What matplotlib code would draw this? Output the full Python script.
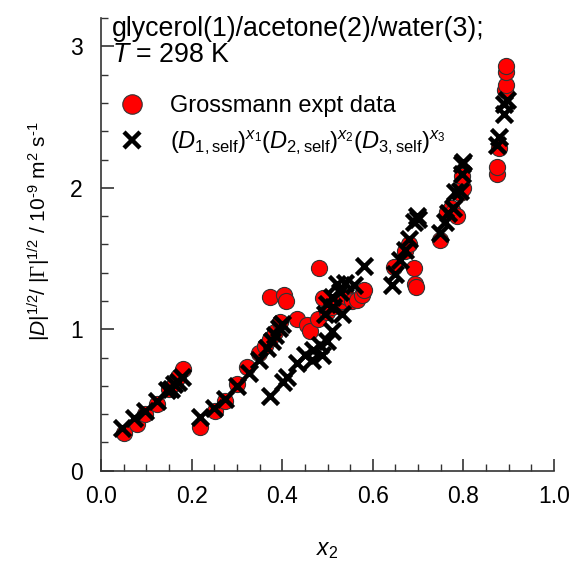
import matplotlib
matplotlib.use("Agg")
import matplotlib.pyplot as plt
from matplotlib.ticker import MultipleLocator
from matplotlib.lines import Line2D

plt.rcParams['font.family'] = ['Liberation Sans', 'DejaVu Sans']
plt.rcParams['mathtext.fontset'] = 'custom'
plt.rcParams['mathtext.rm'] = 'Liberation Sans'
plt.rcParams['mathtext.it'] = 'Liberation Sans:italic'
plt.rcParams['mathtext.bf'] = 'Liberation Sans:bold'
plt.rcParams['mathtext.sf'] = 'Liberation Serif'

# Grossmann experimental data
exp_x = [0.050, 0.079, 0.098, 0.124, 0.149, 0.164, 0.171, 0.182,
         0.219, 0.252, 0.274, 0.300, 0.322, 0.348, 0.362, 0.374, 0.385, 0.396,
         0.372, 0.403, 0.409, 0.433, 0.455, 0.462, 0.482, 0.480, 0.491, 0.499,
         0.510, 0.520, 0.532, 0.543, 0.554, 0.565, 0.576, 0.580,
         0.646, 0.672, 0.679, 0.690, 0.694, 0.696, 0.749, 0.764, 0.772, 0.778,
         0.786, 0.793, 0.800, 0.797,
         0.874, 0.874, 0.878, 0.892, 0.895, 0.895, 0.895]
exp_y = [0.27, 0.33, 0.40, 0.47, 0.58, 0.62, 0.66, 0.72,
         0.31, 0.42, 0.49, 0.61, 0.73, 0.83, 0.88, 0.93, 0.98, 1.05,
         1.23, 1.24, 1.20, 1.07, 1.03, 0.99, 1.43, 1.07, 1.22, 1.12,
         1.16, 1.18, 1.20, 1.23, 1.20, 1.21, 1.24, 1.28,
         1.44, 1.55, 1.60, 1.43, 1.32, 1.30, 1.63, 1.83, 1.86, 1.83,
         1.80, 1.96, 2.00, 2.08,
         2.10, 2.15, 2.28, 2.69, 2.73, 2.82, 2.86]

# Model: (D1,self)^x1 (D2,self)^x2 (D3,self)^x3
mod_x = [0.046, 0.072, 0.098, 0.124, 0.145, 0.155, 0.162, 0.170, 0.178,
         0.219, 0.249, 0.274, 0.300, 0.326, 0.348, 0.366, 0.377, 0.385, 0.392, 0.400,
         0.374, 0.402, 0.410, 0.433, 0.451, 0.466, 0.469, 0.484, 0.488, 0.499,
         0.510, 0.495, 0.499, 0.513, 0.510, 0.521, 0.528, 0.532, 0.539, 0.558, 0.580,
         0.642, 0.650, 0.661, 0.672, 0.679, 0.690, 0.698, 0.700,
         0.749, 0.760, 0.767, 0.778, 0.782, 0.793, 0.797, 0.797, 0.800,
         0.874, 0.878, 0.889, 0.889, 0.896]
mod_y = [0.30, 0.37, 0.42, 0.49, 0.57, 0.58, 0.61, 0.63, 0.66,
         0.38, 0.44, 0.51, 0.60, 0.69, 0.78, 0.87, 0.92, 0.96, 1.01, 1.04,
         0.53, 0.63, 0.66, 0.76, 0.82, 0.78, 0.85, 0.89, 0.82, 0.92,
         0.99, 1.11, 1.18, 1.16, 1.23, 1.32, 1.26, 1.11, 1.33, 1.31, 1.45,
         1.31, 1.39, 1.49, 1.56, 1.64, 1.76, 1.80, 1.78,
         1.68, 1.76, 1.82, 1.86, 1.97, 1.98, 2.10, 2.17, 2.18,
         2.30, 2.36, 2.52, 2.59, 2.62]

x_ticks = [0.0, 0.2, 0.4, 0.6, 0.8, 1.0]
y_ticks = [0, 1, 2, 3]

fig = plt.figure(figsize=(5.75, 5.65), dpi=100)
ax = fig.add_axes([0.1757, 0.1669, 0.7878, 0.8011])

ax.scatter(exp_x, exp_y, s=135, c='#ff0000', edgecolors='#333333', linewidths=0.8, zorder=3)
ax.scatter(mod_x, mod_y, s=135, marker='x', c='black', linewidths=3.2, zorder=4)

ax.set_xlim(0, 1.0)
ax.set_ylim(0, 3.2)
ax.set_xticks(x_ticks)
ax.set_yticks(y_ticks)
ax.set_xticklabels([f'{v:.1f}' for v in x_ticks])
ax.set_yticklabels([str(v) for v in y_ticks])
ax.xaxis.set_minor_locator(MultipleLocator(0.05))
ax.yaxis.set_minor_locator(MultipleLocator(0.2))
ax.tick_params(which='both', direction='in', labelsize=16.5, color='#333333')
ax.tick_params(which='major', length=9, width=1.2, pad=10)
ax.tick_params(which='minor', length=5, width=1.0)
ax.tick_params(axis='y', which='major', pad=13)
for s in ['top', 'right']:
    ax.spines[s].set_visible(False)
for s in ['left', 'bottom']:
    ax.spines[s].set_linewidth(1.2)
    ax.spines[s].set_color('#333333')

ax.set_xlabel(r'$x_2$', fontsize=16.5, labelpad=22)
ax.set_ylabel(r'$|D|^{1/2}$/ $|\mathsf{\Gamma}|^{1/2}$ / 10$^{\mathrm{‐}9}$ m$^{2}$ s$^{\mathrm{‐}1}$',
              fontsize=15)
ax.yaxis.set_label_coords(-0.105, 0.53)

ax.text(0.025, 1.005, 'glycerol(1)/acetone(2)/water(3);\n$T$ = 298 K', transform=ax.transAxes,
        fontsize=19.3, va='top', ha='left', linespacing=1.0)

handles = [Line2D([], [], marker='o', ls='none', markersize=14, markerfacecolor='#ff0000',
                  markeredgecolor='#333333', markeredgewidth=0.8),
           Line2D([], [], marker='x', ls='none', markersize=11, color='black', markeredgewidth=3.2)]
labels = ['Grossmann expt data',
          r'$(D_{1,\mathrm{self}})^{x_1}(D_{2,\mathrm{self}})^{x_2}(D_{3,\mathrm{self}})^{x_3}$']
ax.legend(handles, labels, loc='upper left', bbox_to_anchor=(-0.005, 0.85), frameon=False,
          fontsize=17, handletextpad=0.6, labelspacing=0.45, borderaxespad=0)

fig.savefig('out.png', dpi=100)
